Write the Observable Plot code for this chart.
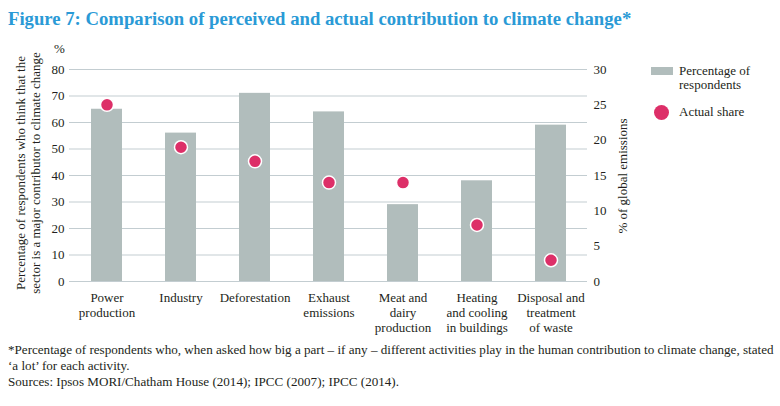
<!DOCTYPE html>
<html>
<head>
<meta charset="utf-8">
<script src="https://cdn.jsdelivr.net/npm/d3@7"></script>
<script src="https://cdn.jsdelivr.net/npm/@observablehq/plot@0.6"></script>
<style>
  html, body { margin: 0; padding: 0; background: #fff; }
  body { width: 780px; height: 406px; position: relative; overflow: hidden; font-family: "Liberation Serif", serif; color: #231f20; }
  #title { position: absolute; left: 8px; top: 8px; font-size: 18.7px; font-weight: bold; color: #2a9ad6; white-space: nowrap; }
  #chart { position: absolute; left: 0; top: 40px; }
  .vlab { position: absolute; white-space: nowrap; text-align: center; font-size: 13px; line-height: 14.5px; transform: translate(-50%, -50%) rotate(-90deg); }
  #pct { position: absolute; left: 54px; top: 41px; font-size: 13px; }
  #legend { position: absolute; left: 651px; top: 64px; font-size: 13px; line-height: 14px; }
  #foot { position: absolute; left: 8px; top: 342px; font-size: 12px; line-height: 16px; white-space: nowrap; }
</style>
</head>
<body>
<div id="title">Figure 7: Comparison of perceived and actual contribution to climate change*</div>
<div id="chart"></div>
<div id="pct">%</div>
<div class="vlab" style="left:28px; top:173px;">Percentage of respondents who think that the<br>sector is a major contributor to climate change</div>
<div class="vlab" style="left:623px; top:176px;">% of global emissions</div>
<div id="legend"></div>
<div id="foot"></div>
<script>
const categories = ["Power\nproduction", "Industry", "Deforestation", "Exhaust\nemissions", "Meat and\ndairy\nproduction", "Heating\nand cooling\nin buildings", "Disposal and\ntreatment\nof waste"];
const respondents = [65, 56, 71, 64, 29, 38, 59];
const actualShare = [25, 19, 17, 14, 14, 8, 3];
const leftTicks = [0, 10, 20, 30, 40, 50, 60, 70, 80];
const rightTicks = [0, 5, 10, 15, 20, 25, 30];
const seriesNames = ["Percentage of\nrespondents", "Actual share"];
const footLines = [
  "*Percentage of respondents who, when asked how big a part \u2013 if any \u2013 different activities play in the human contribution to climate change, stated",
  "\u2018a lot\u2019 for each activity.",
  "Sources: Ipsos MORI/Chatham House (2014); IPCC (2007); IPCC (2014)."
];

const barColor = "#b1bdbc";
const dotColor = "#dd2f68";
const ratio = 80 / 30;

const data = categories.map((c, i) => ({cat: c, resp: respondents[i], actual: actualShare[i]}));

const chart = Plot.plot({
  width: 780,
  height: 301,
  marginTop: 29,
  marginBottom: 60,
  marginLeft: 69,
  marginRight: 193,
  style: {fontFamily: "Liberation Serif, serif", fontSize: "13px", color: "#231f20", background: "transparent"},
  x: {domain: categories, paddingInner: 0.583, paddingOuter: 0.28, axis: null},
  y: {domain: [0, 80], axis: null},
  marks: [
    Plot.gridY(leftTicks, {stroke: "#c3cdd1", strokeOpacity: 1, strokeWidth: 1}),
    Plot.barY(data, {x: "cat", y: "resp", fill: barColor}),
    Plot.dot(data, {x: "cat", y: d => d.actual * ratio, r: 6.5, fill: dotColor, stroke: "white", strokeWidth: 1.5}),
    Plot.axisY(leftTicks, {anchor: "left", tickSize: 0, tickPadding: 5, label: null, fontSize: 13}),
    Plot.axisY(rightTicks.map(d => d * ratio), {anchor: "right", tickSize: 0, tickPadding: 6, label: null, tickFormat: d => String(Math.round(d / ratio)), fontSize: 13}),
    Plot.axisX({anchor: "bottom", tickSize: 0, tickPadding: 10, label: null, lineHeight: 1.15, fontSize: 13, tickFormat: d => d})
  ]
});
document.getElementById("chart").appendChild(chart);

// Legend
const leg = document.getElementById("legend");
leg.innerHTML = `
  <div style="position:relative;height:40px;">
    <div style="position:absolute;left:0;top:3px;width:22px;height:8px;background:${barColor};"></div>
    <div style="position:absolute;left:28px;top:0;white-space:pre;">${seriesNames[0]}</div>
  </div>
  <div style="position:relative;height:20px;">
    <div style="position:absolute;left:3px;top:1px;width:15px;height:15px;border-radius:50%;background:${dotColor};"></div>
    <div style="position:absolute;left:28px;top:1px;white-space:pre;">${seriesNames[1]}</div>
  </div>`;

// Footnote: size font so the first line spans the page width like the reference
const foot = document.getElementById("foot");
foot.innerHTML = footLines.map(l => `<div>${l}</div>`).join("");
const first = foot.firstChild;
first.style.display = "inline-block";
const w = first.getBoundingClientRect().width;
first.style.display = "block";
const target = 766;
foot.style.fontSize = (12 * target / w).toFixed(2) + "px";
</script>
</body>
</html>
